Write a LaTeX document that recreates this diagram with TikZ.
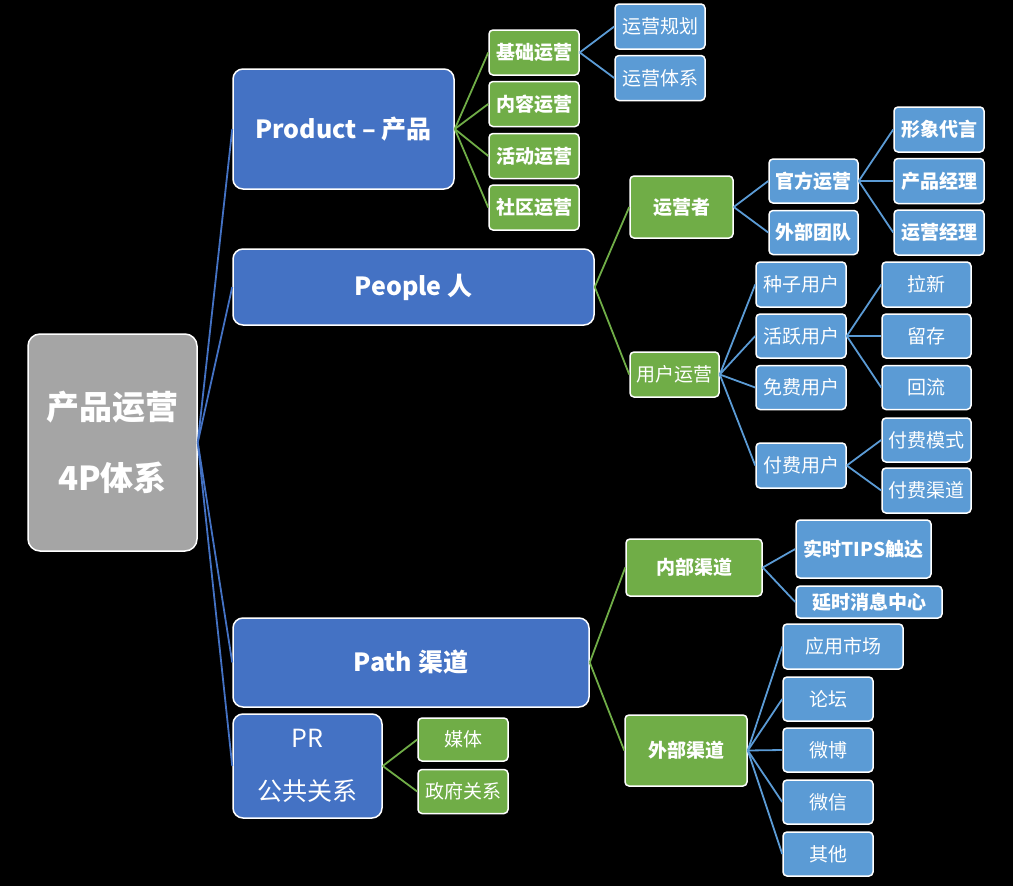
\documentclass[tikz,border=0pt]{standalone}
\usepackage{fontspec}
\setmainfont{Noto Sans CJK SC}
\usetikzlibrary{positioning}
\definecolor{pblue}{HTML}{4472C4}
\definecolor{lblue}{HTML}{5B9BD5}
\definecolor{pgreen}{HTML}{70AD47}
\definecolor{pgray}{HTML}{A5A5A5}
\newcommand{\fs}[2]{\fontsize{#1}{#2}\selectfont}
\tikzset{
    every node/.append style={text=white, inner sep=0pt, align=center},
    sz/.style n args={2}{minimum width=#1pt, minimum height=#2pt},
    box/.style={draw=white, line width=1.5pt, rounded corners=4pt},
    topbox/.style={box, fill=pblue, rounded corners=10pt, font=\bfseries\fs{25}{25}},
    gbox/.style={box, fill=pgreen, font=\fs{19}{19}},
    gboxb/.style={box, fill=pgreen, font=\bfseries\fs{19}{19}},
    bbox/.style={box, fill=lblue, font=\fs{19}{19}},
    bboxb/.style={box, fill=lblue, font=\bfseries\fs{19}{19}},
    link/.style={line width=1.8pt}}

\begin{document}
\begin{tikzpicture}[x=1pt,y=-1pt]
    \fill[black] (0,0) rectangle (1013,886);
    \useasboundingbox (0,0) rectangle (1013,886);

    % root and the four P
    \node[box, fill=pgray, rounded corners=12pt, sz={169}{217}, font=\bfseries\fs{33}{71}] (root) at (112.5,442.5) {产品运营\\4P体系};
    \node[topbox, sz={221}{120}] (prod) at (343.5,129) {Product – 产品};
    \node[topbox, sz={361}{76}] (ppl) at (413.5,287) {People 人};
    \node[topbox, sz={356}{89}] (path) at (411,662.5) {Path 渠道};
    \node[topbox, sz={149}{104}, font=\fs{25}{53}] (pr) at (307.5,766) {PR\\公共关系};

    % product
    \node[gboxb, sz={90}{45}] (jc) at (534,52.5) {基础运营};
    \node[gboxb, sz={90}{45}] (nr) at (534,104) {内容运营};
    \node[gboxb, sz={90}{45}] (hd) at (534,156) {活动运营};
    \node[gboxb, sz={90}{45}] (sq) at (534,207.5) {社区运营};
    \node[bbox, sz={90}{45}] (gh) at (660,26.5) {运营规划};
    \node[bbox, sz={90}{45}] (tx) at (660,78) {运营体系};

    % people
    \node[gboxb, sz={103}{62}] (yyz) at (681.5,207) {运营者};
    \node[bboxb, sz={89}{44}] (gf) at (813.5,181) {官方运营};
    \node[bboxb, sz={89}{44}] (wb) at (813.5,232.5) {外部团队};
    \node[bboxb, sz={90}{45}] (xx) at (939,129.5) {形象代言};
    \node[bboxb, sz={90}{45}] (cp) at (939,181) {产品经理};
    \node[bboxb, sz={90}{45}] (yj) at (939,232.5) {运营经理};
    \node[gbox, sz={89}{45}] (yh) at (674.5,374.5) {用户运营};
    \node[bbox, sz={90}{45}] (zz) at (801,284.5) {种子用户};
    \node[bbox, sz={90}{44}] (hy) at (801,336) {活跃用户};
    \node[bbox, sz={90}{44}] (mf) at (801,387.5) {免费用户};
    \node[bbox, sz={90}{45}] (ff) at (801,465.5) {付费用户};
    \node[bbox, sz={89}{45}] (lx) at (926.5,284.5) {拉新};
    \node[bbox, sz={89}{44}] (lc) at (926.5,336) {留存};
    \node[bbox, sz={89}{44}] (hl) at (926.5,387.5) {回流};
    \node[bbox, sz={89}{44}] (ms) at (926.5,440) {付费模式};
    \node[bbox, sz={89}{45}] (qd) at (926.5,490.5) {付费渠道};

    % path
    \node[gboxb, sz={136}{57}] (nb) at (694,567.5) {内部渠道};
    \node[bboxb, sz={135}{58}] (ss) at (863.5,549) {实时TIPS触达};
    \node[bboxb, sz={146}{32}] (ys) at (869,602) {延时消息中心};
    \node[gboxb, sz={122}{71}] (wq) at (686,750.5) {外部渠道};
    \node[bbox, sz={120}{45}] (sc) at (843,646.5) {应用市场};
    \node[bbox, sz={90}{44}] (lt) at (828,699) {论坛};
    \node[bbox, sz={90}{44}] (wbo) at (828,750) {微博};
    \node[bbox, sz={90}{44}] (wx) at (828,802) {微信};
    \node[bbox, sz={90}{44}] (qt) at (828,854) {其他};

    % pr
    \node[gbox, sz={90}{43}] (mt) at (463,739.5) {媒体};
    \node[gbox, sz={90}{44}] (zf) at (463,791.5) {政府关系};

    \path[link, pblue]
    (root.east) edge (prod.west)
    (root.east) edge (ppl.west)
    (root.east) edge (path.west)
    (root.east) edge (pr.west);

    \path[link, pgreen]
    (prod.east) edge (jc.west)
    (prod.east) edge (nr.west)
    (prod.east) edge (hd.west)
    (prod.east) edge (sq.west)
    (ppl.east) edge (yyz.west)
    (ppl.east) edge (yh.west)
    (path.east) edge (nb.west)
    (path.east) edge (wq.west)
    (pr.east) edge (mt.west)
    (pr.east) edge (zf.west);

    \path[link, lblue]
    (jc.east) edge (gh.west)
    (jc.east) edge (tx.west)
    (yyz.east) edge (gf.west)
    (yyz.east) edge (wb.west)
    (gf.east) edge (xx.west)
    (gf.east) edge (cp.west)
    (gf.east) edge (yj.west)
    (yh.east) edge (zz.west)
    (yh.east) edge (hy.west)
    (yh.east) edge (mf.west)
    (yh.east) edge (ff.west)
    (hy.east) edge (lx.west)
    (hy.east) edge (lc.west)
    (hy.east) edge (hl.west)
    (ff.east) edge (ms.west)
    (ff.east) edge (qd.west)
    (nb.east) edge (ss.west)
    (nb.east) edge (ys.west)
    (wq.east) edge (sc.west)
    (wq.east) edge (lt.west)
    (wq.east) edge (wbo.west)
    (wq.east) edge (wx.west)
    (wq.east) edge (qt.west);
\end{tikzpicture}
\end{document}
